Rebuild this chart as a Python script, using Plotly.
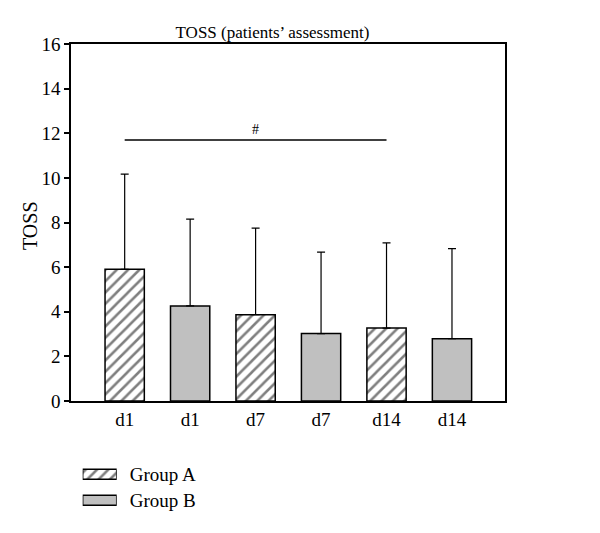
import plotly.graph_objects as go

days = ["d1", "d7", "d14"]
group_names = ["Group A", "Group B"]
group_a_mean = [5.9, 3.87, 3.27]
group_a_upper = [10.17, 7.75, 7.09]
group_b_mean = [4.26, 3.02, 2.79]
group_b_upper = [8.15, 6.67, 6.83]
y_ticks = [0, 2, 4, 6, 8, 10, 12, 14, 16]
sig_level = 11.7
sig_label = "#"
title_text = "TOSS (patients’ assessment)"
y_title = "TOSS"

pos_a = [2 * i for i in range(len(days))]
pos_b = [2 * i + 1 for i in range(len(days))]
tick_pos = sorted(pos_a + pos_b)
tick_text = [d for d in days for _ in range(2)]

FAM = "Liberation Serif, Times New Roman, serif"
font = dict(family=FAM, size=19, color="black")

# page is offset by the browser's 8px body margin; figure is 592x525
W, H = 592, 525
def fx(px):
    return (px - 8) / W
def fy(py):
    return (H - (py - 8)) / H

hatch = dict(shape="/", fgcolor="black", bgcolor="white", size=8, solidity=0.32)
grey = "#c0c0c0"

fig = go.Figure()
fig.add_trace(go.Bar(
    x=pos_a, y=group_a_mean, name=group_names[0], width=0.6, showlegend=False,
    marker=dict(color="white", line=dict(color="black", width=1.5), pattern=hatch),
    error_y=dict(type="data", symmetric=False,
                 array=[u - m for u, m in zip(group_a_upper, group_a_mean)],
                 arrayminus=[0] * len(days), color="black", thickness=1.2, width=4),
))
fig.add_trace(go.Bar(
    x=pos_b, y=group_b_mean, name=group_names[1], width=0.6, showlegend=False,
    marker=dict(color=grey, line=dict(color="black", width=1.5)),
    error_y=dict(type="data", symmetric=False,
                 array=[u - m for u, m in zip(group_b_upper, group_b_mean)],
                 arrayminus=[0] * len(days), color="black", thickness=1.2, width=4),
))

# legend drawn as a small inset axis
fig.add_trace(go.Bar(
    x=[1], y=[1], orientation="h", width=0.385, xaxis="x2", yaxis="y2", showlegend=False,
    marker=dict(color="white", line=dict(color="black", width=1.5), pattern=hatch),
    hoverinfo="skip",
))
fig.add_trace(go.Bar(
    x=[1], y=[0], orientation="h", width=0.385, xaxis="x2", yaxis="y2", showlegend=False,
    marker=dict(color=grey, line=dict(color="black", width=1.5)),
    hoverinfo="skip",
))

fig.add_shape(type="line", x0=pos_a[0], x1=pos_a[-1], y0=sig_level, y1=sig_level,
              xref="x", yref="y", line=dict(color="black", width=1.5))
fig.add_annotation(x=(pos_a[0] + pos_a[-1]) / 2, y=sig_level, text=sig_label, showarrow=False,
                   yanchor="bottom", yshift=1, font=dict(family=FAM, size=14, color="black"))

fig.add_annotation(x=fx(30), y=fy(226), xref="paper", yref="paper", text=y_title,
                   textangle=-90, showarrow=False, font=dict(family=FAM, size=20, color="black"),
                   xanchor="center", yanchor="middle")

fig.update_layout(
    width=W, height=H,
    margin=dict(l=0, r=0, t=0, b=0),
    paper_bgcolor="white", plot_bgcolor="white",
    font=font,
    showlegend=False,
    barmode="overlay",
    title=dict(text=title_text, x=fx(272.5), y=fy(32), xref="paper", yref="paper",
               xanchor="center", yanchor="middle", font=dict(family=FAM, size=17, color="black")),
    xaxis=dict(domain=[fx(71), fx(505)], range=[-0.82, 5.81], tickvals=tick_pos,
               ticktext=tick_text, showgrid=False, automargin=False,
               zeroline=False, showline=True, linecolor="black", linewidth=1.5, mirror=True,
               ticks="", tickfont=font),
    yaxis=dict(domain=[fy(401), fy(44)], range=[0, 16], tickvals=y_ticks, showgrid=False,
               zeroline=False, automargin=False,
               showline=True, linecolor="black", linewidth=1.5, mirror=True,
               ticks="outside", ticklen=5, tickwidth=1.5, tickcolor="black", tickfont=font),
    xaxis2=dict(domain=[fx(82.7), fx(116.7)], range=[0, 1], visible=False, anchor="y2",
                automargin=False, fixedrange=True),
    yaxis2=dict(domain=[fy(513.3), fy(461.3)], range=[-0.5, 1.5], anchor="x2", side="right",
                tickvals=[1, 0], ticktext=group_names, showgrid=False, zeroline=False,
                showline=False, ticks="", ticklabelstandoff=12, automargin=False,
                tickfont=font, fixedrange=True),
)
fig.write_html("out.html")
